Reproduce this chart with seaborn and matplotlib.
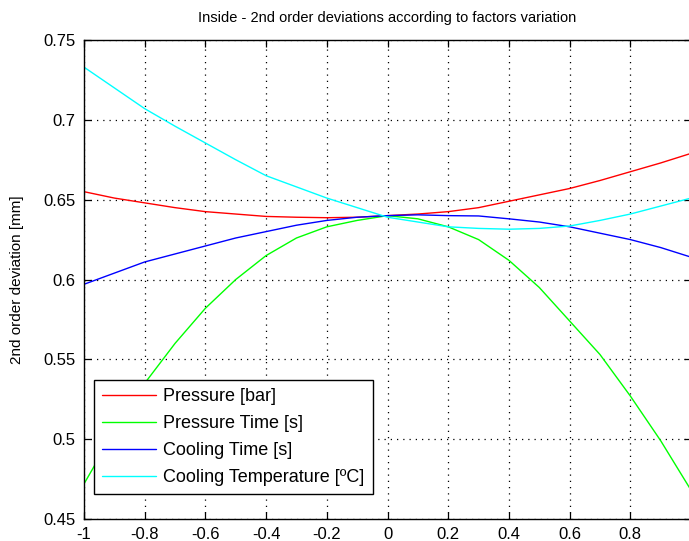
import numpy as np
import pandas as pd
import seaborn as sns
import matplotlib
matplotlib.use("Agg")
import matplotlib.pyplot as plt

x_vals = [-1.0, -0.9, -0.8, -0.7, -0.6, -0.5, -0.4, -0.3, -0.2, -0.1, 0.0,
          0.1, 0.2, 0.3, 0.4, 0.5, 0.6, 0.7, 0.8, 0.9, 1.0]

pressure = [0.655, 0.651, 0.648, 0.645, 0.6425, 0.641, 0.6395, 0.639, 0.6387, 0.639, 0.640,
            0.641, 0.6425, 0.645, 0.649, 0.653, 0.657, 0.662, 0.6675, 0.673, 0.679]
pressure_time = [0.472, 0.505, 0.535, 0.560, 0.582, 0.600, 0.615, 0.626, 0.633, 0.637, 0.640,
                 0.638, 0.633, 0.625, 0.612, 0.595, 0.574, 0.553, 0.527, 0.499, 0.468]
cooling_time = [0.597, 0.604, 0.611, 0.616, 0.621, 0.626, 0.630, 0.634, 0.637, 0.639, 0.640,
                0.6405, 0.640, 0.6398, 0.638, 0.636, 0.633, 0.629, 0.625, 0.620, 0.614]
cooling_temp = [0.733, 0.720, 0.707, 0.696, 0.6855, 0.675, 0.665, 0.658, 0.651, 0.645, 0.639,
                0.636, 0.633, 0.632, 0.6315, 0.632, 0.6335, 0.637, 0.641, 0.646, 0.651]

series_names = ["Pressure [bar]", "Pressure Time [s]", "Cooling Time [s]",
                "Cooling Temperature [ºC]"]
series_colors = ["#ff0000", "#00ff00", "#0000ff", "#00ffff"]

x_ticks = [-1, -0.8, -0.6, -0.4, -0.2, 0, 0.2, 0.4, 0.6, 0.8, 1]
x_tick_labels = ["-1", "-0.8", "-0.6", "-0.4", "-0.2", "0", "0.2", "0.4", "0.6", "0.8", ""]
y_ticks = [0.45, 0.5, 0.55, 0.6, 0.65, 0.7, 0.75]
y_tick_labels = ["0.45", "0.5", "0.55", "0.6", "0.65", "0.7", "0.75"]

frames = []
for name, vals in zip(series_names, [pressure, pressure_time, cooling_time, cooling_temp]):
    frames.append(pd.DataFrame({"x": x_vals, "y": vals, "series": name}))
df = pd.concat(frames, ignore_index=True)

sns.set_theme(style="white")
plt.rcParams["font.family"] = ["Liberation Sans", "DejaVu Sans"]

fig = plt.figure(figsize=(6.89, 5.41), dpi=100)
ax = fig.add_axes([84 / 689, 1 - 519 / 541, 1 - 84 / 689 + 0.003, (519 - 40) / 541])

sns.lineplot(data=df, x="x", y="y", hue="series", hue_order=series_names,
             palette=series_colors, linewidth=1.0, ax=ax, sort=False)

ax.set_xlim(-1, 1)
ax.set_ylim(0.45, 0.75)
ax.set_xticks(x_ticks)
ax.set_xticklabels(x_tick_labels, fontsize=12)
ax.set_yticks(y_ticks)
ax.set_yticklabels(y_tick_labels, fontsize=12)
ax.tick_params(direction="in", length=5, width=0.9, top=True, right=True,
               bottom=True, left=True, color="black", pad=6, labelcolor="black")
ax.grid(True, color="black", linestyle=(0, (1, 4)), linewidth=0.9)
for s in ax.spines.values():
    s.set_color("black")
    s.set_linewidth(1.0)

ax.set_xlabel("")
ax.set_ylabel("2nd order deviation [mm]", fontsize=11, color="black", labelpad=14)
ax.set_title("Inside - 2nd order deviations according to factors variation",
             fontsize=10.5, color="black", pad=13)

leg = ax.legend(loc="lower left", bbox_to_anchor=(0.016, 0.052), fontsize=13,
                frameon=True, fancybox=False, handlelength=3.0, handletextpad=0.4,
                borderpad=0.45, labelspacing=0.55, borderaxespad=0)
leg.get_frame().set_edgecolor("black")
leg.get_frame().set_linewidth(1.0)
leg.get_frame().set_alpha(1.0)
for t in leg.get_texts():
    t.set_color("black")

fig.savefig("out.png", dpi=100)
